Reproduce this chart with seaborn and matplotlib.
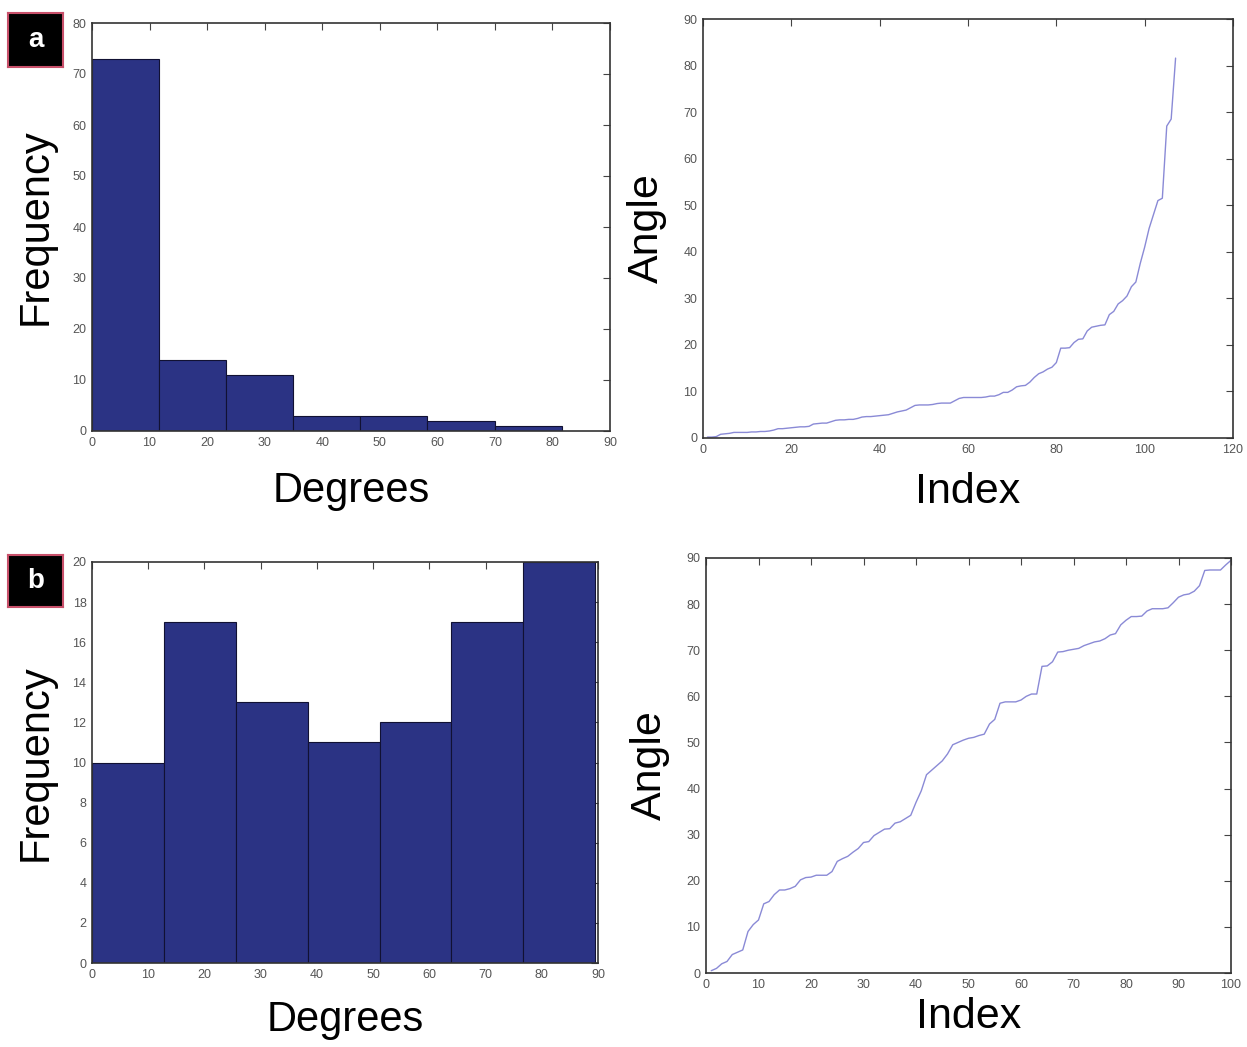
import numpy as np
import pandas as pd
import matplotlib
matplotlib.use("Agg")
import matplotlib.pyplot as plt
import seaborn as sns

# ---- data ----
# (a) sorted angles, 107 samples
angles_a = [
    0.2, 0.2, 0.3, 0.8, 0.9, 1.0, 1.2, 1.2, 1.2, 1.2,
    1.3, 1.3, 1.4, 1.4, 1.5, 1.7, 2.0, 2.0, 2.1, 2.2,
    2.3, 2.4, 2.4, 2.5, 3.0, 3.1, 3.2, 3.2, 3.5, 3.8,
    3.9, 3.9, 4.0, 4.0, 4.2, 4.5, 4.6, 4.6, 4.7, 4.8,
    4.9, 5.0, 5.3, 5.6, 5.8, 6.0, 6.5, 7.0, 7.1, 7.1,
    7.1, 7.2, 7.4, 7.5, 7.5, 7.5, 8.0, 8.5, 8.7, 8.7,
    8.7, 8.7, 8.7, 8.8, 9.0, 9.0, 9.3, 9.8, 9.8, 10.3,
    11.0, 11.2, 11.3,
    12.0, 13.0, 13.8, 14.2, 14.8, 15.2, 16.2, 19.3, 19.3, 19.4,
    20.5, 21.2, 21.3, 23.0,
    23.8, 24.0, 24.2, 24.3, 26.5, 27.2, 28.8, 29.5, 30.5,
    32.5, 33.5,
    37.5, 41.0, 45.0,
    48.0, 51.0, 51.5,
    67.0, 68.5,
    81.6,
]

# (b) sorted angles, 100 samples
angles_b = [
    0.5, 1.0, 2.0, 2.5, 4.0, 4.5, 5.0, 9.0, 10.5, 11.5,
    15.0, 15.5, 17.0, 18.0, 18.0, 18.3, 18.8, 20.2, 20.7, 20.8,
    21.2, 21.2, 21.2, 22.0, 24.2, 24.8, 25.3,
    26.2, 27.0, 28.3, 28.5, 29.8, 30.5, 31.2, 31.3, 32.5, 32.8,
    33.5, 34.2, 37.0,
    39.5, 43.0, 44.0, 45.0, 46.0, 47.5, 49.5, 50.0, 50.5, 50.9,
    51.1,
    51.5, 51.8, 54.0, 55.0, 58.5, 58.8, 58.8, 58.8, 59.2, 60.0,
    60.5, 60.5,
    66.5, 66.6, 67.5, 69.6, 69.7, 70.0, 70.2, 70.4, 71.0, 71.4,
    71.8, 72.0, 72.5, 73.3, 73.6, 75.5, 76.5,
    77.3, 77.3, 77.4, 78.5, 79.0, 79.0, 79.0, 79.2, 80.3, 81.5,
    82.0, 82.2, 82.8, 84.0, 87.3, 87.4, 87.4, 87.4, 88.5, 89.5,
]

hist_range_a = (0, 81.6)
hist_range_b = (0, 89.5)
n_bins = 7

bar_color = "#2b3384"
line_color = "#8a8ad6"
tick_color = "#555555"

sns.set_style("white")
plt.rcParams["font.family"] = ["Liberation Sans", "DejaVu Sans"]
plt.rcParams["axes.labelcolor"] = "black"

fig = plt.figure(figsize=(12.47, 10.47), dpi=100)
W, H = 1247, 1047


def place(l, t, r, b):
    return fig.add_axes([l / W, 1 - b / H, (r - l) / W, (b - t) / H])


ax_a1 = place(92, 23, 610, 431)
ax_a2 = place(703, 19, 1233, 438)
ax_b1 = place(92, 562, 598, 963)
ax_b2 = place(706, 558, 1231, 973)


def matlab_box(ax):
    for s in ax.spines.values():
        s.set_visible(True)
        s.set_color("#333333")
        s.set_linewidth(1.2)
    ax.tick_params(direction="in", length=5, width=0.8, top=True, right=True,
                   labelsize=9, labelcolor=tick_color, color="#444444", pad=4)


# histograms
for ax, vals, rng, ymax, ystep, lp in [(ax_a1, angles_a, hist_range_a, 80, 10, 16),
                                        (ax_b1, angles_b, hist_range_b, 20, 2, 14)]:
    sns.histplot(x=vals, bins=n_bins, binrange=rng, ax=ax, color=bar_color,
                 alpha=1, edgecolor="#111133", linewidth=0.8)
    ax.set_xlim(0, 90)
    ax.set_ylim(0, ymax)
    ax.set_xticks(range(0, 91, 10))
    ax.set_yticks(range(0, ymax + 1, ystep))
    ax.set_xlabel("Degrees", fontsize=30, labelpad=lp)
    ax.set_ylabel("Frequency", fontsize=30, labelpad=12)
    matlab_box(ax)

# sorted angle curves
df_a = pd.DataFrame({"Index": np.arange(1, len(angles_a) + 1), "Angle": angles_a})
df_b = pd.DataFrame({"Index": np.arange(1, len(angles_b) + 1), "Angle": angles_b})

sns.lineplot(data=df_a, x="Index", y="Angle", ax=ax_a2, color=line_color, linewidth=1.0)
ax_a2.set_xlim(0, 120)
ax_a2.set_ylim(0, 90)
ax_a2.set_xticks(range(0, 121, 20))
ax_a2.set_yticks(range(0, 91, 10))

sns.lineplot(data=df_b, x="Index", y="Angle", ax=ax_b2, color=line_color, linewidth=1.0)
ax_b2.set_xlim(0, 100)
ax_b2.set_ylim(0, 90)
ax_b2.set_xticks(range(0, 101, 10))
ax_b2.set_yticks(range(0, 91, 10))

for ax, lp in [(ax_a2, 12), (ax_b2, 5)]:
    ax.set_xlabel("Index", fontsize=31, labelpad=lp)
    ax.set_ylabel("Angle", fontsize=31, labelpad=12)
    matlab_box(ax)

# panel tags
for label, (l, t, r, b) in [("a", (8, 13, 63, 67)), ("b", (8, 555, 63, 607))]:
    tag = fig.add_axes([l / W, 1 - b / H, (r - l) / W, (b - t) / H])
    tag.set_facecolor("black")
    tag.set_xticks([])
    tag.set_yticks([])
    for s in tag.spines.values():
        s.set_color("#c8506a")
        s.set_linewidth(1.5)
    tag.text(0.5, 0.5, label, color="white", fontsize=20, fontweight="bold",
             ha="center", va="center", transform=tag.transAxes)

fig.savefig("out.png", dpi=100, facecolor="white")
